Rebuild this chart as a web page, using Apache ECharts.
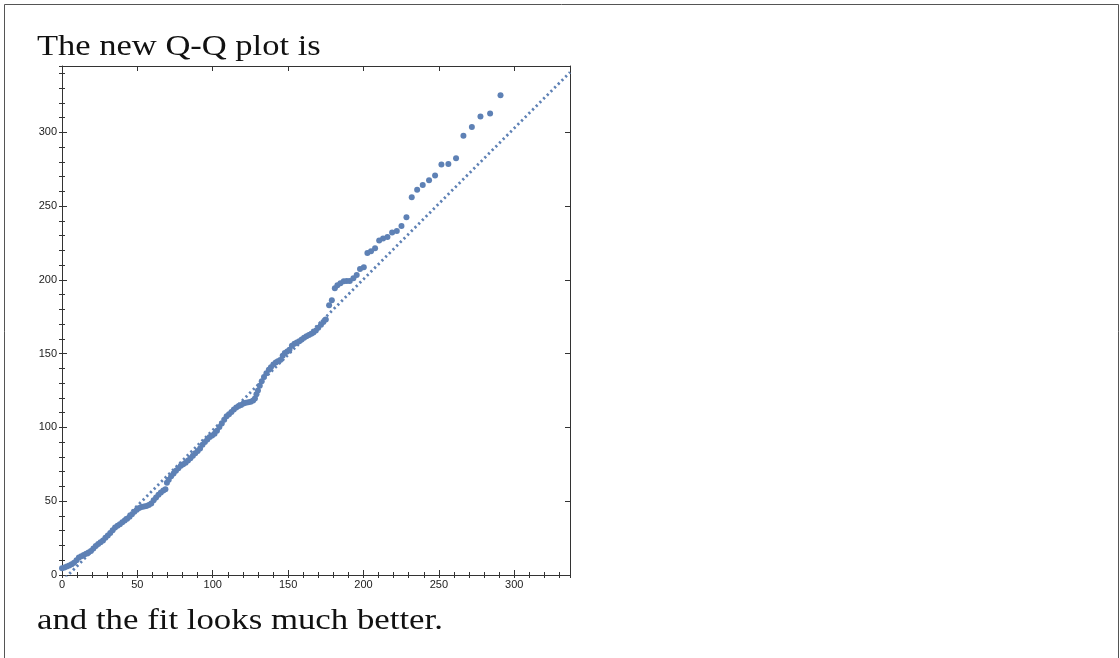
<!DOCTYPE html>
<html>
<head>
<meta charset="utf-8">
<script src="https://cdn.jsdelivr.net/npm/echarts@6/dist/echarts.min.js"></script>
<style>
  html, body { margin: 0; padding: 0; background: #ffffff; }
  #chart { width: 1120px; height: 658px; }
</style>
</head>
<body>
<div id="chart"></div>
<script>
// Theoretical quantiles (x) and sample quantiles (y) of the Q-Q plot
const quantX = [
  0, 1.6, 3.2, 4.8, 6.4, 8.0, 9.6, 11.2, 12.8, 14.4, 16.0, 17.6, 19.2, 20.8, 22.4, 24.0,
  25.6, 27.2, 28.8, 30.4, 32.0, 33.6, 35.2, 36.8, 38.4, 40.0, 41.6, 43.2, 44.8, 46.4, 48.0,
  49.6, 51.2, 52.8, 54.4, 56.0, 57.6, 59.2, 60.8, 62.4, 64.0, 65.6, 67.2, 68.6, 69.6, 70.8,
  72.4, 74.0, 75.6, 77.2, 78.8, 80.4, 82.0, 83.6, 85.2, 86.8, 88.4, 90.0, 91.6, 93.2, 94.8,
  96.4, 98.0, 99.6, 101.2, 102.8, 104.4, 106.0, 107.6, 109.2, 110.8, 112.4, 114.0, 115.6,
  117.2, 118.8, 120.4, 122.0, 123.6, 125.2, 126.8, 128.0, 129.0, 130.0, 131.2, 132.5, 134.0,
  135.6, 137.2, 138.6, 140.2, 141.8, 143.2, 144.8, 146.4, 147.8, 149.4, 150.9, 152.5, 154.2,
  155.8, 157.4, 159.0, 160.6, 162.2, 163.8, 165.4, 166.8, 168.4, 170.0, 171.8, 173.4, 175.0,
  177.2, 179.0, 181.0, 182.7, 184.7, 186.9, 188.9, 190.9, 193.3, 195.5, 197.7, 200.2, 202.6,
  205.0, 207.7, 210.4, 213.0, 215.9, 219.0, 222.1, 225.2, 228.5, 232.0, 235.6, 239.3, 243.5,
  247.5, 251.7, 256.3, 261.4, 266.3, 271.9, 277.6, 284.0, 290.9
];
const quantY = [
  4.5, 5.0, 5.7, 6.5, 7.3, 8.3, 10.0, 11.8, 12.7, 13.6, 14.4, 15.2, 16.2, 18.0, 19.6, 21.0,
  22.2, 23.4, 25.2, 26.8, 28.4, 30.4, 32.2, 33.3, 34.4, 35.7, 37.0, 38.2, 39.4, 41.2, 42.8,
  44.2, 45.4, 46.1, 46.4, 46.7, 47.5, 48.4, 50.6, 52.6, 54.4, 56.0, 57.2, 58.2, 62.6, 64.6,
  67.0, 68.8, 70.6, 72.4, 74.0, 75.0, 76.0, 77.6, 79.2, 80.8, 82.5, 84.0, 85.8, 88.2, 90.2,
  91.9, 93.5, 94.6, 95.8, 97.8, 100.3, 102.7, 105.2, 107.6, 108.9, 110.5, 112.2, 113.6,
  114.6, 115.3, 116.3, 116.8, 117.1, 117.5, 118.2, 119.6, 122.5, 125.0, 128.2, 131.4, 134.2,
  136.8, 139.2, 140.8, 142.6, 144.0, 144.9, 145.8, 148.6, 150.4, 151.5, 152.6, 155.4, 156.8,
  157.6, 158.5, 159.6, 160.8, 161.8, 162.7, 163.6, 164.4, 165.8, 167.6, 169.6, 171.5, 173.1,
  182.8, 186.2, 194.3, 196.4, 197.7, 199.1, 199.3, 199.3, 201.1, 203.4, 207.4, 208.6, 218.3,
  219.4, 221.4, 226.8, 228.0, 229.1, 232.1, 233.2, 236.5, 242.4, 256.0, 261.2, 264.3, 267.5,
  270.7, 278.3, 278.5, 282.4, 297.7, 303.6, 310.8, 312.8, 325.2
];
// Reference line end points
const refLineX = [0, 337];
const refLineY = [-4.2, 340.7];

// Axis settings
const xMax = 337;
const yMax = 345;
const majorStep = 50;
const minorStep = 10;

const pointColor = '#5E81B5';
const frameColor = '#333333';
const labelColor = '#222222';

const chart = echarts.init(document.getElementById('chart'), null, { renderer: 'canvas' });

const gridRect = { left: 62, right: 550, top: 66, bottom: 83 };

function valueAxis(opts) {
  return Object.assign({
    type: 'value',
    splitLine: { show: false },
    axisLine: { show: true, onZero: false, lineStyle: { color: frameColor, width: 1 } },
    axisTick: { show: true, inside: true, length: 5, lineStyle: { color: frameColor, width: 1 } },
    axisLabel: { show: false }
  }, opts);
}

function minorAxis(opts) {
  return valueAxis(Object.assign({
    interval: minorStep,
    axisLine: { show: false },
    axisTick: { show: true, inside: true, length: 3, lineStyle: { color: frameColor, width: 1 } }
  }, opts));
}

const tickLabel = {
  show: true, color: labelColor, fontSize: 11,
  fontFamily: 'Liberation Sans, Arial, sans-serif', showMaxLabel: false
};

const points = quantX.map((x, i) => [x, quantY[i]]);
const refLine = refLineX.map((x, i) => [x, refLineY[i]]);

const proseFont = '29px "Liberation Serif", serif';

const option = {
  animation: false,
  backgroundColor: '#ffffff',
  grid: [
    Object.assign({}, gridRect),
    Object.assign({}, gridRect)
  ],
  xAxis: [
    valueAxis({ gridIndex: 0, position: 'bottom', min: 0, max: xMax, interval: majorStep,
      axisLabel: Object.assign({ margin: 4 }, tickLabel) }),
    valueAxis({ gridIndex: 0, position: 'top', min: 0, max: xMax, interval: majorStep }),
    minorAxis({ gridIndex: 1, position: 'bottom', min: 0, max: xMax }),
    minorAxis({ gridIndex: 1, position: 'top', min: 0, max: xMax })
  ],
  yAxis: [
    valueAxis({ gridIndex: 0, position: 'left', min: 0, max: yMax, interval: majorStep,
      axisLabel: Object.assign({ margin: 5 }, tickLabel) }),
    valueAxis({ gridIndex: 0, position: 'right', min: 0, max: yMax, interval: majorStep }),
    minorAxis({ gridIndex: 1, position: 'left', min: 0, max: yMax }),
    minorAxis({ gridIndex: 1, position: 'right', min: 0, max: yMax })
  ],
  series: [
    {
      type: 'line',
      xAxisIndex: 0, yAxisIndex: 0,
      data: refLine,
      showSymbol: false,
      symbol: 'none',
      clip: true,
      lineStyle: { color: pointColor, width: 2.8, type: [2.2, 3], cap: 'butt' },
      z: 2
    },
    {
      type: 'scatter',
      xAxisIndex: 0, yAxisIndex: 0,
      data: points,
      symbolSize: 6,
      itemStyle: { color: pointColor, opacity: 1 },
      z: 3
    }
  ],
  graphic: [
    // page frame
    { type: 'line', shape: { x1: 4.5, y1: 4.5, x2: 1118.5, y2: 4.5 }, style: { stroke: '#555', lineWidth: 1 } },
    { type: 'line', shape: { x1: 4.5, y1: 4.5, x2: 4.5, y2: 658 }, style: { stroke: '#555', lineWidth: 1 } },
    { type: 'line', shape: { x1: 1118.5, y1: 4.5, x2: 1118.5, y2: 658 }, style: { stroke: '#555', lineWidth: 1 } },
    // surrounding prose
    { type: 'text', x: 37, y: 33, scaleX: 1.19,
      style: { text: 'The new Q-Q plot is', fill: '#111', font: proseFont, textVerticalAlign: 'top' } },
    { type: 'text', x: 37, y: 607, scaleX: 1.2,
      style: { text: 'and the fit looks much better.', fill: '#111', font: proseFont, textVerticalAlign: 'top' } }
  ]
};

chart.setOption(option);
</script>
</body>
</html>
